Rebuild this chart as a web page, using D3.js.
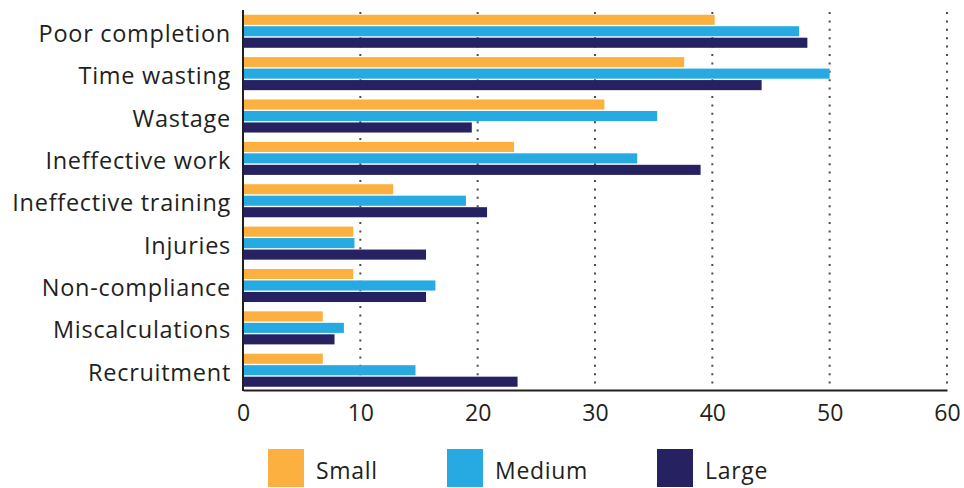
<!DOCTYPE html>
<html>
<head>
<meta charset="utf-8">
<script src="https://cdn.jsdelivr.net/npm/d3@7"></script>
<style>
  html, body { margin: 0; padding: 0; background: #fff; }
  svg { display: block; }
  text { font-family: "Open Sans", "Noto Sans", sans-serif; fill: #231f20; }
</style>
</head>
<body>
<svg id="chart" width="964" height="488"></svg>
<script>
// Problem areas reported, by organisation size (percent)
const categories = ["Poor completion", "Time wasting", "Wastage", "Ineffective work",
  "Ineffective training", "Injuries", "Non-compliance", "Miscalculations", "Recruitment"];
const seriesNames = ["Small", "Medium", "Large"];
const smallValues  = [40.2, 37.6, 30.8, 23.1, 12.8, 9.4, 9.4, 6.8, 6.8];
const mediumValues = [47.4, 50.0, 35.3, 33.6, 19.0, 9.5, 16.4, 8.6, 14.7];
const largeValues  = [48.1, 44.2, 19.5, 39.0, 20.8, 15.6, 15.6, 7.8, 23.4];
const xTicks = [0, 10, 20, 30, 40, 50, 60];
const colors = ["#fbb040", "#27aae1", "#262262"];

const seriesValues = [smallValues, mediumValues, largeValues];

const svg = d3.select("#chart");
const plotLeft = 243, plotRight = 947, plotTop = 10, plotBottom = 390;

const x = d3.scaleLinear().domain([0, 60]).range([plotLeft, plotRight]);
const y = d3.scaleBand().domain(categories).range([10.5, 391])
  .paddingInner(0.22).paddingOuter(0.1);
const ySub = d3.scaleBand().domain(seriesNames).range([0, y.bandwidth()]).paddingInner(0.12);

// Dotted vertical gridlines
svg.append("g")
  .selectAll("line")
  .data(xTicks.filter(d => d > 0))
  .join("line")
  .attr("x1", d => x(d)).attr("x2", d => x(d))
  .attr("y1", plotTop + 2).attr("y2", plotBottom)
  .attr("stroke", "#4d4d4d")
  .attr("stroke-width", 2)
  .attr("stroke-dasharray", "2,6.4");

// Bars
const groups = svg.append("g")
  .selectAll("g")
  .data(categories)
  .join("g")
  .attr("transform", c => `translate(0,${y(c)})`);

groups.selectAll("rect")
  .data((c, i) => seriesNames.map((s, k) => ({ s, k, v: seriesValues[k][i] })))
  .join("rect")
  .attr("x", x(0))
  .attr("y", d => ySub(d.s))
  .attr("width", d => x(d.v) - x(0))
  .attr("height", ySub.bandwidth())
  .attr("fill", d => colors[d.k]);

// Category labels
svg.append("g")
  .selectAll("text")
  .data(categories)
  .join("text")
  .attr("x", 231)
  .attr("y", c => y(c) + y.bandwidth() / 2 + 10.5)
  .attr("text-anchor", "end")
  .attr("font-size", 23.5)
  .attr("letter-spacing", 0.72)
  .text(c => c);

// Axes
const xAxis = d3.axisBottom(x).tickValues(xTicks).tickSize(0)
  .tickFormat(d3.format("d"));
const gx = svg.append("g").attr("transform", `translate(0,${plotBottom})`).call(xAxis);
gx.select(".domain").attr("stroke", "#231f20").attr("stroke-width", 2);
gx.selectAll("text").attr("font-size", 23).attr("font-family", "Open Sans, sans-serif")
  .attr("fill", "#231f20").attr("y", 31).attr("dy", 0);

const yAxis = d3.axisLeft(y).tickSize(0).tickFormat("");
const gy = svg.append("g").attr("transform", `translate(${plotLeft},0)`).call(yAxis);
gy.select(".domain").attr("d", `M0,${plotTop}V${plotBottom + 1}`)
  .attr("stroke", "#231f20").attr("stroke-width", 2);

// Legend
const legendX = [268, 447, 657];
const legend = svg.append("g")
  .selectAll("g")
  .data(seriesNames)
  .join("g")
  .attr("transform", (d, i) => `translate(${legendX[i]},449)`);
legend.append("rect")
  .attr("width", 36).attr("height", 38)
  .attr("fill", (d, i) => colors[i]);
legend.append("text")
  .attr("x", 48).attr("y", 30)
  .attr("font-size", 23)
  .attr("letter-spacing", 0.7)
  .text(d => d);
</script>
</body>
</html>
